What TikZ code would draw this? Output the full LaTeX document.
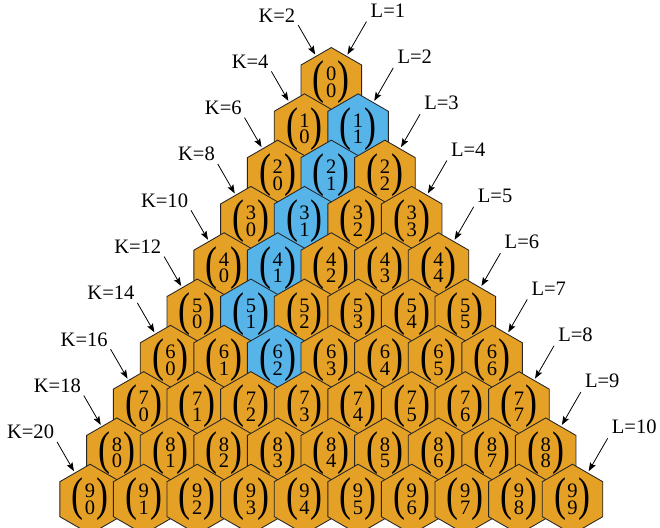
\documentclass[tikz,border=0pt]{standalone}
\usepackage{fontspec}
\usepackage{graphicx}
\setmainfont{Liberation Serif}
\usetikzlibrary{arrows.meta,shapes.geometric,calc}
\definecolor{hexorange}{RGB}{229,160,38}
\definecolor{hexblue}{RGB}{86,180,233}
\newcommand{\hexfont}{\fontsize{15.4}{18}\selectfont}
\newcommand{\hexbinom}[2]{$\vcenter{\hbox{\scalebox{1.75}[2.3]{(}}}\kern1pt\vcenter{\baselineskip=12.4pt\lineskiplimit=-50pt\hbox{#1}\hbox{#2}}\kern1pt\vcenter{\hbox{\scalebox{1.75}[2.3]{)}}}$}

\begin{document}
\begin{tikzpicture}[x=0.75pt,y=0.75pt,
    hexcell/.style={regular polygon,regular polygon sides=6,shape border rotate=30,
      minimum size=46.4pt,inner sep=0pt,outer sep=0pt,draw=black!85,line width=0.65pt,font=\hexfont},
    tag/.style={font=\hexfont,inner sep=2pt},
    pointer/.style={-{Stealth[length=6.5pt,width=4.8pt,inset=1.2pt]},line width=0.6pt,shorten >=1.5pt}]
  \clip (0,0) rectangle (660,528);
  % triangle of cells
  \foreach \n in {0,...,9}{
    \foreach \k in {0,...,\n}{
      \pgfmathtruncatemacro\isblue{(\k==1 && \n>0 && \n<6) || (\n==6 && \k==2)}
      \ifnum\isblue=1 \def\cellfill{hexblue}\else\def\cellfill{hexorange}\fi
      \node[hexcell,fill=\cellfill] (c\n-\k) at ({331.3+(\k-\n/2)*53.6},{445.5-46.3*\n}) {\hexbinom{\n}{\k}};
    }
  }
  % K and L pointers
  \foreach \n [evaluate=\n as \kv using int(2*\n+2), evaluate=\n as \lv using int(\n+1)] in {0,...,9}{
    \node[tag,anchor=south east] (k\n) at ($(c\n-0.120)+(120:36)$) {K=\kv};
    \draw[pointer] (k\n.south east) -- (c\n-0.120);
    \node[tag,anchor=south west,inner sep=3pt] (l\n) at ($(c\n-\n.60)+(60:40)$) {L=\lv};
    \draw[pointer] (l\n.south west) -- (c\n-\n.60);
  }
\end{tikzpicture}
\end{document}
